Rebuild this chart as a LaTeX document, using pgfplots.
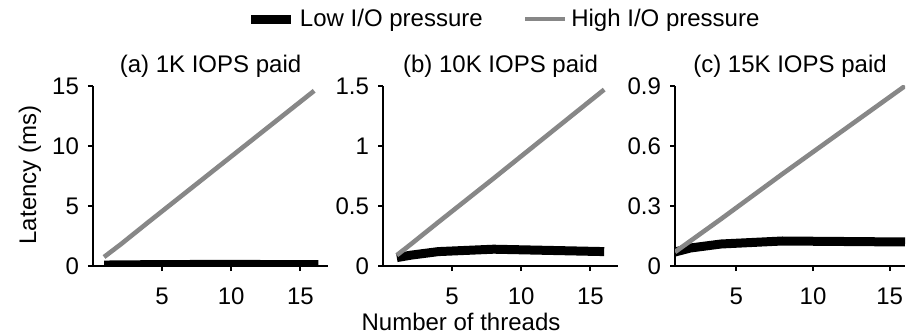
\documentclass[border=0pt]{standalone}
\usepackage{fontspec}
\setmainfont{Liberation Sans}
\usepackage{pgfplots}
\pgfplotsset{compat=1.18}
\definecolor{hi}{gray}{0.53}
\begin{document}
\begin{tikzpicture}[font=\fontsize{12}{14}\selectfont]
\useasboundingbox (0,0) rectangle (460pt,-168pt);
\pgfplotsset{
 every axis/.append style={
  scale only axis, height=90pt,
  axis x line*=bottom, axis y line*=left,
  axis line style={line width=0.9pt,-},
  every tick/.style={line width=0.9pt,black},
  tick align=outside, major tick length=2.5pt,
  xtick={5,10,15}, xticklabels={5,10,15},
  ymin=0,
  font=\fontsize{12}{14}\selectfont,
  title style={font=\fontsize{12}{14}\selectfont, yshift=-5.5pt},
  xticklabel style={yshift=-5pt},
  yticklabel style={xshift=-1pt},
 },
 low/.style={black, line width=4.5pt},
 high/.style={hi, line width=2.3pt},
}
% (a)
\begin{axis}[at={(46.5pt,-133pt)}, anchor=south west, width=117.5pt,
  xmin=0, xmax=17, ymax=15, ytick={0,5,10,15}, yticklabels={0,5,10,15},
  title={(a) 1K IOPS paid}]
\addplot[low] coordinates {(0.8,0.08) (2,0.09) (4,0.11) (8,0.13) (16.3,0.12)};
\addplot[high] coordinates {(0.8,0.75) (2,1.8) (4,3.65) (8,7.3) (16,14.6)};
\end{axis}
% (b)
\begin{axis}[at={(191.5pt,-133pt)}, anchor=south west, width=117.5pt,
  xmin=0, xmax=17, ymax=1.5, ytick={0,0.5,1,1.5}, yticklabels={0,0.5,1,1.5},
  title={(b) 10K IOPS paid},
  legend columns=2,
  legend style={draw=none, fill=none, at={(0.52,1.372)}, anchor=center,
    /tikz/every even column/.append style={column sep=18pt},
    font=\fontsize{12}{14}\selectfont},
  legend image code/.code={\draw[#1] (0pt,0pt) -- (20pt,0pt);}]
\addplot[low] coordinates {(1,0.07) (2,0.09) (4,0.12) (8,0.14) (16,0.12)};
\addplot[high] coordinates {(1,0.09) (2,0.18) (4,0.365) (8,0.73) (16,1.47)};
\legend{Low I/O pressure, High I/O pressure}
\end{axis}
% (c)
\begin{axis}[at={(337.5pt,-133pt)}, anchor=south west, width=115pt,
  xmin=1, xmax=16, ymax=0.9, ytick={0,0.3,0.6,0.9}, yticklabels={0,0.3,0.6,0.9},
  title={(c) 15K IOPS paid}]
\addplot[low] coordinates {(1,0.07) (2,0.09) (4,0.11) (8,0.125) (16,0.12)};
\addplot[high] coordinates {(1,0.07) (2,0.125) (4,0.235) (8,0.46) (16,0.9)};
\end{axis}
\node[rotate=90] at (15pt,-87.5pt) {Latency (ms)};
\node at (230.5pt,-161pt) {Number of threads};
\end{tikzpicture}
\end{document}
